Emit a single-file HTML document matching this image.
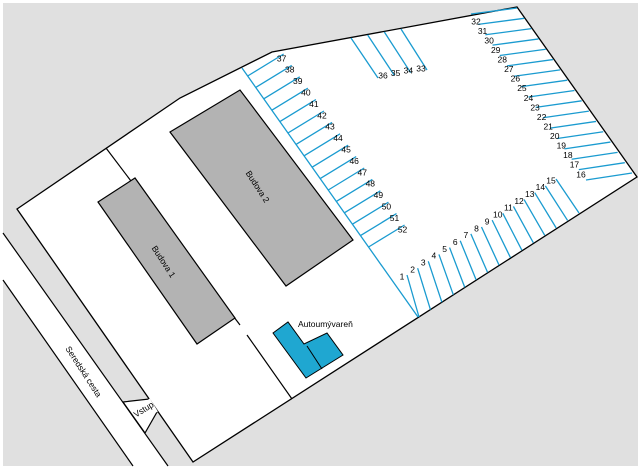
<!DOCTYPE html>
<html><head><meta charset="utf-8"><style>
html,body{margin:0;padding:0;background:#fff;}
svg{display:block;}
text{font-family:"Liberation Sans",sans-serif;font-size:8.5px;fill:#000;}
</style></head><body>
<svg width="640" height="470" viewBox="0 0 640 470" xmlns="http://www.w3.org/2000/svg">
<rect x="3" y="3" width="635" height="463" fill="#e0e0e0"/>
<!-- road -->
<polygon points="3,233 168,466 133,466 3,280" fill="#fff"/>
<line x1="3" y1="233" x2="168" y2="466" stroke="#000" stroke-width="1.2"/>
<line x1="3" y1="280" x2="133" y2="466" stroke="#000" stroke-width="1.2"/>
<!-- lot -->
<polygon points="17,209 180,98 272,52 517,7 637,177 193,462" fill="#fff" stroke="#000" stroke-width="1.3"/>
<!-- entrance -->
<polygon points="123,402 149,399 157,412 145,433" fill="#fff" stroke="#000" stroke-width="1.2"/>
<line x1="149" y1="399" x2="157" y2="412" stroke="#fff" stroke-width="2"/>
<!-- internal lines -->
<line x1="106" y1="148" x2="240" y2="325" stroke="#000" stroke-width="1.2"/>
<line x1="247" y1="335" x2="292" y2="399" stroke="#000" stroke-width="1.2"/>
<!-- buildings -->
<polygon points="98,202 135,178 235,318 197,344" fill="#b3b3b3" stroke="#000" stroke-width="1.2"/>
<polygon points="170,132 240,90 353,240 286,286" fill="#b3b3b3" stroke="#000" stroke-width="1.2"/>
<text x="163" y="262" transform="rotate(57 163 262)" text-anchor="middle" dominant-baseline="middle">Budova 1</text>
<text x="257" y="187" transform="rotate(57 257 187)" text-anchor="middle" dominant-baseline="middle">Budova 2</text>
<text x="83" y="372" transform="rotate(57 83 372)" text-anchor="middle" dominant-baseline="middle">Seredská cesta</text>
<text x="144" y="410" transform="rotate(-32 144 410)" text-anchor="middle" dominant-baseline="middle">Vstup</text>
<!-- car wash -->
<polygon points="273,333 288,322 304,344 327,333 343,355 306,378" fill="#1fa7d1" stroke="#000" stroke-width="1"/>
<line x1="307" y1="346" x2="322" y2="369" stroke="#000" stroke-width="1"/>
<text x="298" y="327">Autoumývareň</text>
<g id="p" stroke="#1a9bd0" stroke-width="1.3"></g>
<g id="t"></g>
</svg>
<script>
var p=document.getElementById('p'),t=document.getElementById('t'),NS="http://www.w3.org/2000/svg";
function L(a,b,c,d){var l=document.createElementNS(NS,'line');l.setAttribute('x1',a);l.setAttribute('y1',b);l.setAttribute('x2',c);l.setAttribute('y2',d);p.appendChild(l);}
function T(x,y,s){var e=document.createElementNS(NS,'text');e.setAttribute('x',x);e.setAttribute('y',y);e.setAttribute('text-anchor','middle');e.setAttribute('dominant-baseline','middle');e.textContent=s;t.appendChild(e);}
function lerp(a,b,f){return a+(b-a)*f;}
L(242,68,418,317);
// 37-52
for(var i=0;i<16;i++){var f=i/15;var y=lerp(76,247,f),x=242+(y-68)*0.707;L(x,y,x+36,y-22);T(x+34,y-17,37+i);}
// 33-36
for(var i=0;i<4;i++){var f=i/3;var x1=lerp(351,401,f),y1=lerp(38,29,f),x2=lerp(378,427,f),y2=lerp(78,70,f);L(x1,y1,x2,y2);T(lerp(383,421,f),lerp(76,69,f),36-i);}
// 16-32
for(var i=0;i<17;i++){var f=i/16;var x1=lerp(471,586,f),y1=lerp(14,180,f),x2=lerp(517,632,f),y2=lerp(8,173,f);L(x1,y1,x2,y2);T(lerp(476,581,f),lerp(22,175,f),32-i);}
// 1-15
for(var i=0;i<15;i++){var f=i/14;var x1=lerp(407,556,f),y1=lerp(275,179,f),x2=lerp(419,579,f),y2=lerp(317,213,f);L(x1,y1,x2,y2);T(x1-5,y1+2,1+i);}
</script>
</body></html>
